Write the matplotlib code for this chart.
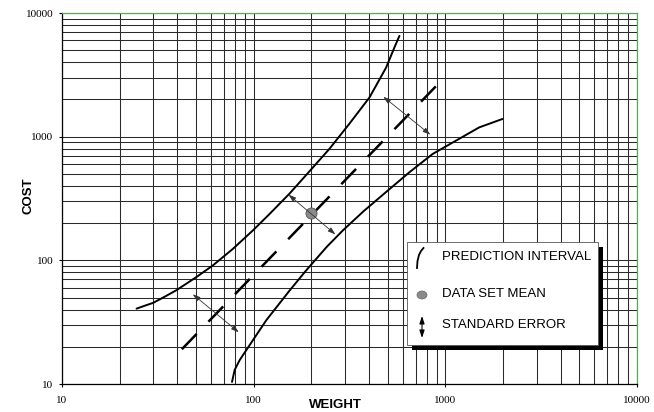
import matplotlib
matplotlib.use("Agg")
import matplotlib.pyplot as plt
from matplotlib.patches import Rectangle, Ellipse
from matplotlib.ticker import FixedLocator, FixedFormatter, LogLocator, NullFormatter

# ---- data ----
upper_w = [24.5, 26.5, 29.9, 34.5, 39.5, 50.3, 61.4, 78, 99.1, 121, 154, 188, 249, 316, 402, 491, 542, 576]
upper_c = [40.7, 42.5, 45.3, 51, 57.3, 73.3, 91.2, 124, 174.6, 237, 347, 490, 800, 1274, 2075, 3622, 5250, 6531]

lower_w = [77.1, 79.6, 84.5, 99.1, 116.4, 154, 188, 240, 292, 375, 471, 649, 859, 1137, 1503, 1986]
lower_c = [10.4, 13.0, 15.6, 22.6, 32.8, 57, 83, 128, 174.6, 250, 338, 515, 725, 929, 1189, 1390]

fit_w = [42.2, 908]
fit_c = [19.1, 2625]

mean_w = [200]
mean_c = [240]

# standard error arrows: (w_start, c_start, w_end, c_end)
se_arrows = [
    (48.1, 53.2, 83.6, 26.2),
    (152, 340, 267, 162),
    (475, 2103, 835, 1038),
]

xticks = [10, 100, 1000, 10000]
yticks = [10, 100, 1000, 10000]
tick_labels_x = ["10", "100", "1000", "10000"]
tick_labels_y = ["10", "100", "1000", "10000"]

legend_labels = ["PREDICTION INTERVAL", "DATA SET MEAN", "STANDARD ERROR"]

# ---- figure ----
fig = plt.figure(figsize=(6.54, 4.12), dpi=100)
ax = fig.add_axes([62/654, 1-384/412, 575/654, 371/412])
ax.set_xscale("log")
ax.set_yscale("log")
ax.set_xlim(10, 10000)
ax.set_ylim(10, 10000)

grid_col = "#2a2a2a"
ax.xaxis.set_major_locator(FixedLocator(xticks))
ax.yaxis.set_major_locator(FixedLocator(yticks))
ax.xaxis.set_major_formatter(FixedFormatter(tick_labels_x))
ax.yaxis.set_major_formatter(FixedFormatter(tick_labels_y))
ax.xaxis.set_minor_locator(LogLocator(base=10, subs=range(2, 10)))
ax.yaxis.set_minor_locator(LogLocator(base=10, subs=range(2, 10)))
ax.xaxis.set_minor_formatter(NullFormatter())
ax.yaxis.set_minor_formatter(NullFormatter())
ax.grid(True, which="both", color=grid_col, linewidth=0.75)
ax.set_axisbelow(True)

ax.tick_params(which="major", direction="out", length=2.3, width=0.8, color="black")
ax.tick_params(which="minor", length=0)
ax.tick_params(axis="x", which="major", pad=6.5)
ax.tick_params(axis="y", which="major", pad=3.8)
for lab in ax.get_xticklabels() + ax.get_yticklabels():
    lab.set_fontfamily("Liberation Serif")
    lab.set_fontsize(8)

for s in ["left", "bottom"]:
    ax.spines[s].set_color("black")
    ax.spines[s].set_linewidth(0.9)
for s in ["top", "right"]:
    ax.spines[s].set_color("#5aa85a")
    ax.spines[s].set_linewidth(0.9)

# curves
ax.plot(upper_w, upper_c, color="black", lw=1.4, solid_capstyle="round",
        solid_joinstyle="round", zorder=3)
ax.plot(lower_w, lower_c, color="black", lw=1.4, solid_capstyle="round",
        solid_joinstyle="round", zorder=3)
ax.plot(fit_w, fit_c, color="black", lw=1.8, dashes=(8.5, 6.8), zorder=3)
ax.plot(mean_w, mean_c, marker="o", markersize=8, markerfacecolor="#8a8a8a",
        markeredgecolor="#555555", markeredgewidth=0.6, linestyle="none", zorder=4)

for (w0, c0, w1, c1) in se_arrows:
    ax.annotate("", xy=(w1, c1), xytext=(w0, c0),
                arrowprops=dict(arrowstyle="<|-|>,head_length=0.45,head_width=0.15",
                                color="#333333", lw=0.6, shrinkA=0, shrinkB=0),
                zorder=5)

# axis labels
ax.set_xlabel("WEIGHT", fontfamily="Liberation Sans", fontweight="bold", fontsize=9.5)
ax.set_ylabel("COST", fontfamily="Liberation Sans", fontweight="bold", fontsize=9.5)
ax.xaxis.label.set_va("center")
ax.yaxis.label.set_va("center")
ax.xaxis.set_label_coords(0.475, -0.057)
ax.yaxis.set_label_coords(-0.059, 0.507)

# legend box (drawn manually in axes fraction)
T = ax.transAxes
bx0, bx1 = (407-62)/575, (598-62)/575
by0, by1 = (384-345)/371, (384-242)/371
dx, dy = 5/575, 5/371
ax.add_patch(Rectangle((bx0+dx, by0-dy), bx1-bx0, by1-by0, transform=T,
                       facecolor="black", edgecolor="none", zorder=6, clip_on=False))
ax.add_patch(Rectangle((bx0, by0), bx1-bx0, by1-by0, transform=T,
                       facecolor="white", edgecolor="#555555", lw=0.6, zorder=7, clip_on=False))

tx = (442-62)/575
ty = [(384-257)/371, (384-294)/371, (384-325)/371]
for lab, y in zip(legend_labels, ty):
    ax.text(tx, y, lab, transform=T, fontfamily="Liberation Sans", fontsize=9.5,
            va="center", ha="left", zorder=8)

# legend symbols
sym_cx = (422-62)/575
arc_x = [(417-62)/575, (417.5-62)/575, (419-62)/575, (421-62)/575, (423.5-62)/575]
arc_y = [(384-268)/371, (384-261)/371, (384-255)/371, (384-251)/371, (384-248)/371]
ax.plot(arc_x, arc_y, transform=T, color="black", lw=1.3, zorder=8, clip_on=False,
        solid_joinstyle="round")
ax.add_patch(Ellipse((sym_cx, (384-295)/371), 10/575, 8/371, transform=T,
                     facecolor="#8a8a8a", edgecolor="#666666", lw=0.5, zorder=8))
ax.annotate("", xy=(sym_cx, (384-338)/371), xytext=(sym_cx, (384-316)/371),
            xycoords=T, textcoords=T,
            arrowprops=dict(arrowstyle="<|-|>,head_length=0.45,head_width=0.15",
                            color="black", lw=0.8, shrinkA=0, shrinkB=0), zorder=8)

fig.savefig("out.png", dpi=100)
